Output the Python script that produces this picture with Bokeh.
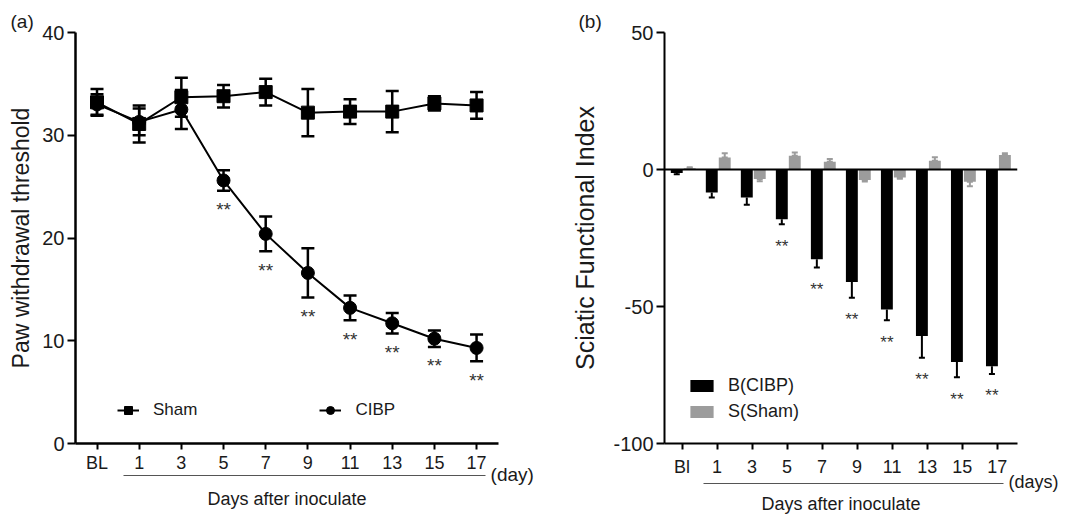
import numpy as np
from bokeh.plotting import figure
from bokeh.models import (Range1d, FixedTicker, LinearAxis, Legend, LegendItem,
                          Whisker, TeeHead, ColumnDataSource, Span, Title)
from bokeh.layouts import row
from bokeh.embed import file_html
from bokeh.resources import INLINE
from bokeh.core.properties import value

# ---------------- data ----------------
# (a) paw withdrawal threshold
days_a = ["BL", "1", "3", "5", "7", "9", "11", "13", "15", "17"]
sham_pwt = [33.2, 31.1, 33.7, 33.8, 34.2, 32.2, 32.3, 32.3, 33.1, 32.9]
sham_pwt_err = [1.3, 1.8, 1.9, 1.1, 1.3, 2.3, 1.2, 2.0, 0.7, 1.3]
cibp_pwt = [33.0, 31.3, 32.5, 25.6, 20.4, 16.6, 13.2, 11.7, 10.2, 9.3]
cibp_pwt_err = [1.0, 1.3, 1.9, 1.0, 1.7, 2.4, 1.2, 1.0, 0.8, 1.3]
sig_a = ["", "", "", "**", "**", "**", "**", "**", "**", "**"]

# (b) sciatic functional index
days_b = ["Bl", "1", "3", "5", "7", "9", "11", "13", "15", "17"]
cibp_sfi = [-1.3, -8.4, -10.2, -18.2, -32.8, -41.1, -51.1, -60.8, -70.3, -71.8]
cibp_sfi_err = [0.4, 1.8, 2.7, 1.8, 3.0, 5.7, 3.9, 7.9, 5.5, 2.8]
sham_sfi = [0.5, 4.4, -3.5, 5.0, 2.8, -3.8, -2.9, 3.2, -4.5, 5.3]
sham_sfi_err = [0.3, 1.5, 0.8, 1.2, 1.0, 0.6, 0.5, 1.3, 1.6, 0.6]
sig_b = ["", "", "", "**", "**", "**", "**", "**", "**", "**"]

yticks_a = [0, 10, 20, 30, 40]
yticks_b = [-100, -50, 0, 50]

FONT = "Liberation Sans"
TXT = "#1a1a1a"
NBSP = "\u00a0"


def style_axis(ax, tick_size="20px", tick_out=8, standoff=3, label_size="23px",
               label_standoff=10, line_width=2):
    ax.axis_line_width = line_width
    ax.axis_line_color = "black"
    ax.major_tick_line_width = 2
    ax.major_tick_line_color = "black"
    ax.major_tick_out = tick_out
    ax.major_tick_in = 0
    ax.minor_tick_line_color = None
    ax.minor_tick_out = 0
    ax.minor_tick_in = 0
    ax.major_label_text_font = FONT
    ax.major_label_text_font_size = tick_size
    ax.major_label_text_color = TXT
    ax.major_label_standoff = standoff
    ax.axis_label_text_font = FONT
    ax.axis_label_text_font_size = label_size
    ax.axis_label_text_font_style = "normal"
    ax.axis_label_text_color = TXT
    ax.axis_label_standoff = label_standoff


def underline_axis(bounds, label, standoff, unit_text, pad, unit_size):
    # thin line under the day ticks, with the unit text at its right end
    ax = LinearAxis(ticker=FixedTicker(ticks=[bounds[1]]), bounds=bounds, axis_label=label,
                    major_label_overrides={bounds[1]: NBSP * pad + unit_text})
    ax.axis_line_width = 1
    ax.axis_line_color = "#555555"
    ax.major_tick_line_color = None
    ax.minor_tick_line_color = None
    ax.major_tick_out = 0
    ax.major_tick_in = 0
    ax.minor_tick_out = 0
    ax.minor_tick_in = 0
    ax.major_label_standoff = -12
    ax.major_label_text_font = FONT
    ax.major_label_text_font_size = unit_size
    ax.major_label_text_color = TXT
    ax.axis_label_text_font = FONT
    ax.axis_label_text_font_size = "18px"
    ax.axis_label_text_font_style = "normal"
    ax.axis_label_text_color = TXT
    ax.axis_label_standoff = standoff
    return ax


def panel_title(text, offset):
    t = Title(text=text, align="left", offset=offset, standoff=2)
    t.text_font = FONT
    t.text_font_size = "19px"
    t.text_font_style = "normal"
    t.text_color = TXT
    return t


# ---------------- panel (a) ----------------
idx = np.arange(len(days_a))
pa = figure(width=538, height=516, x_range=Range1d(-0.51, 9.52), y_range=Range1d(0, 40),
            output_backend="svg", toolbar_location=None,
            min_border_left=75, min_border_right=40, min_border_top=32, min_border_bottom=72,
            x_axis_location=None, y_axis_location=None)
pa.outline_line_color = None
pa.xgrid.visible = False
pa.ygrid.visible = False
pa.title = panel_title("(a)", -65)

ya = LinearAxis(ticker=FixedTicker(ticks=yticks_a), axis_label="Paw withdrawal threshold")
style_axis(ya, label_standoff=5, line_width=2.5)
pa.add_layout(ya, "left")

xa = LinearAxis(ticker=FixedTicker(ticks=list(idx)),
                major_label_overrides={int(i): d for i, d in zip(idx, days_a)})
style_axis(xa, tick_size="18px", tick_out=6, standoff=3, line_width=2.5)
pa.add_layout(xa, "below")
pa.add_layout(underline_axis((0.62, 9.22), "Days after inoculate", 1, "(day)", 10, "19px"), "below")

sa = np.array(sham_pwt); sae = np.array(sham_pwt_err)
ca = np.array(cibp_pwt); cae = np.array(cibp_pwt_err)
src_sa = ColumnDataSource(dict(x=idx, y=sa, lo=sa - sae, hi=sa + sae))
src_ca = ColumnDataSource(dict(x=idx, y=ca, lo=ca - cae, hi=ca + cae))

for src in (src_sa, src_ca):
    pa.add_layout(Whisker(source=src, base="x", lower="lo", upper="hi", line_width=2.5,
                          line_color="black",
                          lower_head=TeeHead(size=13, line_width=2.5, line_color="black"),
                          upper_head=TeeHead(size=13, line_width=2.5, line_color="black")))

l_s = pa.line("x", "y", source=src_sa, line_color="black", line_width=2)
m_s = pa.scatter("x", "y", source=src_sa, marker="square", size=13, color="black")
l_c = pa.line("x", "y", source=src_ca, line_color="black", line_width=2)
m_c = pa.scatter("x", "y", source=src_ca, marker="circle", size=13, color="black")

keep = [i for i, s in enumerate(sig_a) if s]
pa.text(x=[idx[i] for i in keep], y=[ca[i] - cae[i] for i in keep], text=[sig_a[i] for i in keep],
        text_font=value(FONT), text_font_size="19px", text_color="#333333",
        text_align="center", text_baseline="middle", y_offset=19)

leg_a = Legend(items=[LegendItem(label="Sham", renderers=[l_s, m_s]),
                      LegendItem(label="CIBP", renderers=[l_c, m_c])],
               location=(42, 23), orientation="horizontal")
leg_a.border_line_color = None
leg_a.background_fill_alpha = 0
leg_a.padding = 0
leg_a.margin = 0
leg_a.spacing = 122
leg_a.glyph_width = 22
leg_a.glyph_height = 20
leg_a.label_height = 20
leg_a.label_standoff = 14
leg_a.label_text_font = FONT
leg_a.label_text_font_size = "17px"
leg_a.label_text_color = TXT
pa.add_layout(leg_a)

# ---------------- panel (b) ----------------
idxb = np.arange(len(days_b))
pb = figure(width=527, height=516, x_range=Range1d(-0.5, 9.58), y_range=Range1d(-100, 50),
            output_backend="svg", toolbar_location=None,
            min_border_left=126, min_border_right=48, min_border_top=32, min_border_bottom=72,
            x_axis_location=None, y_axis_location=None)
pb.outline_line_color = None
pb.xgrid.visible = False
pb.ygrid.visible = False
pb.title = panel_title("(b)", -86)

yb = LinearAxis(ticker=FixedTicker(ticks=yticks_b), axis_label="Sciatic Functional Index",
                major_label_overrides={t: str(t) for t in yticks_b})
style_axis(yb, label_size="25px", label_standoff=11)
pb.add_layout(yb, "left")

xb = LinearAxis(ticker=FixedTicker(ticks=list(idxb)),
                major_label_overrides={int(i): d for i, d in zip(idxb, days_b)},
                axis_label=NBSP)
style_axis(xb, tick_size="18px", tick_out=6, standoff=7, label_size="1px", label_standoff=0)
pb.add_layout(xb, "below")
pb.add_layout(underline_axis((0.61, 9.18), "Days after inoculate", -1, "(days)", 12, "18px"), "below")

cb = np.array(cibp_sfi); cbe = np.array(cibp_sfi_err)
sb = np.array(sham_sfi); sbe = np.array(sham_sfi_err)
xc = idxb - 0.15
xs = idxb + 0.22
src_cb = ColumnDataSource(dict(x=xc, top=cb, lo=cb - cbe, hi=cb))
src_sb = ColumnDataSource(dict(x=xs, top=sb,
                               lo=np.where(sb >= 0, sb, sb - sbe),
                               hi=np.where(sb >= 0, sb + sbe, sb)))

bar_c = pb.vbar(x="x", top="top", bottom=0, width=0.34, source=src_cb,
                fill_color="black", line_color=None)
bar_s = pb.vbar(x="x", top="top", bottom=0, width=0.34, source=src_sb,
                fill_color="#9c9c9c", line_color=None)

pb.add_layout(Whisker(source=src_cb, base="x", lower="lo", upper="hi", line_width=2,
                      line_color="black",
                      lower_head=TeeHead(size=6, line_width=2, line_color="black"),
                      upper_head=None))
pb.add_layout(Whisker(source=src_sb, base="x", lower="lo", upper="hi", line_width=2,
                      line_color="#9c9c9c",
                      lower_head=TeeHead(size=6, line_width=2, line_color="#9c9c9c"),
                      upper_head=TeeHead(size=6, line_width=2, line_color="#9c9c9c")))

pb.add_layout(Span(location=0, dimension="width", line_color="black", line_width=2))

keepb = [i for i, s in enumerate(sig_b) if s]
pb.text(x=[xc[i] for i in keepb], y=[cb[i] - cbe[i] for i in keepb], text=[sig_b[i] for i in keepb],
        text_font=value(FONT), text_font_size="17px", text_color="#333333",
        text_align="center", text_baseline="middle", y_offset=22)

leg_b = Legend(items=[LegendItem(label="B(CIBP)", renderers=[bar_c]),
                      LegendItem(label="S(Sham)", renderers=[bar_s])],
               location=(23, 21), orientation="vertical")
leg_b.border_line_color = None
leg_b.background_fill_alpha = 0
leg_b.padding = 0
leg_b.margin = 0
leg_b.spacing = 5
leg_b.glyph_width = 29
leg_b.glyph_height = 15
leg_b.label_height = 20
leg_b.label_standoff = 12
leg_b.label_text_font = FONT
leg_b.label_text_font_size = "18px"
leg_b.label_text_color = TXT
pb.add_layout(leg_b)

layout = row(pa, pb)
open("out.html", "w").write(file_html(layout, INLINE))
